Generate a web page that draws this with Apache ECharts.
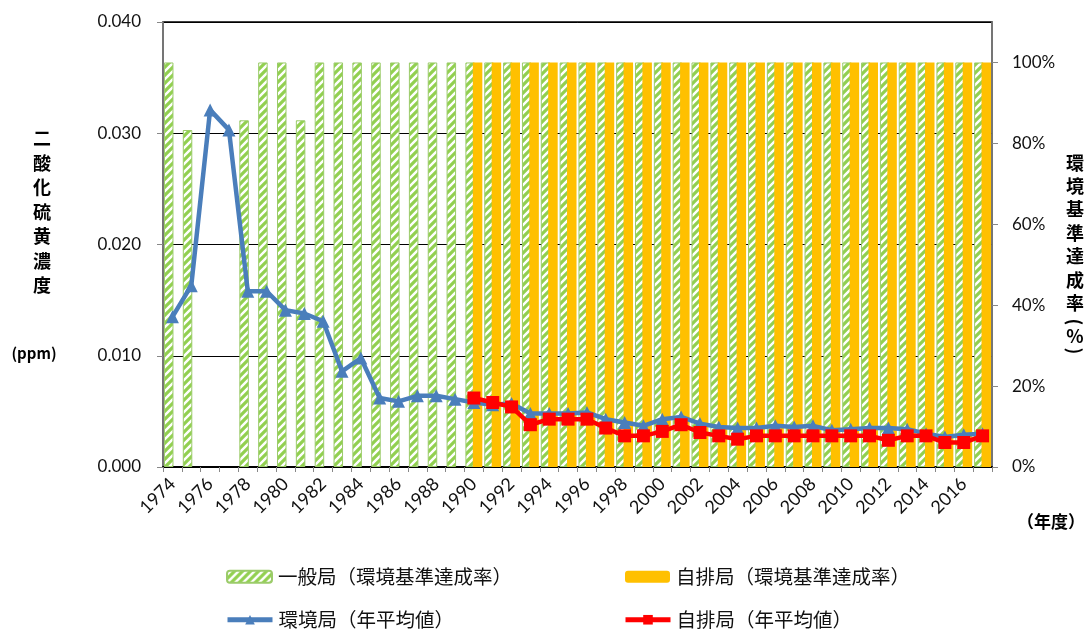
<!DOCTYPE html>
<html>
<head>
<meta charset="utf-8">
<script src="https://cdn.jsdelivr.net/npm/echarts@6/dist/echarts.min.js"></script>
<style>
html,body{margin:0;padding:0;background:#fff;}
#c{width:1088px;height:631px;}
</style>
</head>
<body>
<div id="c"></div>
<script>
const years = ['1974','1975','1976','1977','1978','1979','1980','1981','1982','1983','1984','1985','1986','1987','1988','1989','1990','1991','1992','1993','1994','1995','1996','1997','1998','1999','2000','2001','2002','2003','2004','2005','2006','2007','2008','2009','2010','2011','2012','2013','2014','2015','2016','2017'];

// 一般局 環境基準達成率 (%)
const generalRate = [100, 83.3, null, null, 85.7, 100, 100, 85.7,
  100,100,100,100,100,100,100,100,100,100,100,100,100,100,100,100,100,100,
  100,100,100,100,100,100,100,100,100,100,100,100,100,100,100,100,100,100];

// 自排局 環境基準達成率 (%)
const roadsideRate = [null,null,null,null,null,null,null,null,null,null,null,null,null,null,null,null,
  100,100,100,100,100,100,100,100,100,100,100,100,100,100,100,100,100,100,100,100,100,100,100,100,100,100,100,100];

// 環境局 年平均値 (ppm)
const generalAvg = [0.0135,0.0163,0.0321,0.0303,0.0158,0.0158,0.0141,0.0138,0.0131,0.0086,0.0098,0.0062,0.0059,0.0064,0.0064,0.0061,
  0.0058,0.0056,0.0057,0.0048,0.0048,0.0048,0.0049,0.0043,0.0040,0.0037,0.0043,0.0045,0.0039,0.0036,0.0035,0.0035,0.0037,0.0036,0.0037,0.0033,0.0034,0.0035,0.0035,0.0034,0.0030,0.0027,0.0029,0.0030];

// 自排局 年平均値 (ppm)
const roadsideAvg = [null,null,null,null,null,null,null,null,null,null,null,null,null,null,null,null,
  0.0062,0.0058,0.0054,0.0038,0.0043,0.0043,0.0043,0.0035,0.0028,0.0028,0.0032,0.0038,0.0031,0.0028,0.0025,0.0028,0.0028,0.0028,0.0028,0.0028,0.0028,0.0028,0.0024,0.0028,0.0028,0.0022,0.0022,0.0028];

const leftTicks = [0, 0.01, 0.02, 0.03, 0.04];
const rightTicks = [0, 20, 40, 60, 80, 100];

function hatch(){
  const cv = document.createElement('canvas');
  cv.width = 8; cv.height = 8;
  const g = cv.getContext('2d');
  g.fillStyle = '#ffffff';
  g.fillRect(0,0,8,8);
  g.strokeStyle = '#92D050';
  g.lineWidth = 3.2;
  g.beginPath();
  g.moveTo(-2,10); g.lineTo(10,-2);
  g.moveTo(-6,6); g.lineTo(6,-6);
  g.moveTo(2,14); g.lineTo(14,2);
  g.stroke();
  return cv;
}

const numFont = 'Lato, "Noto Sans", sans-serif';
const jpFont = '"Noto Sans CJK JP", sans-serif';

const chart = echarts.init(document.getElementById('c'), null, {renderer:'canvas'});
const names = ['一般局(環境基準達成率)','自排局(環境基準達成率)','環境局(年平均値)','自排局(年平均値)'];

const legendBase = {
  orient:'horizontal', padding:0, itemGap:0,
  itemWidth:45, itemHeight:12,
  lineStyle:{width:5},
  textStyle:{fontSize:19.5, fontFamily:jpFont, color:'#111', padding:[0,0,0,1]},
  formatter:function(n){ return n.replace('(', '（').replace(')', '）'); },
  selectedMode:false
};

const R = -Math.PI/2;
const titleStyle = {fontFamily:'"Noto Sans CJK JP"', fontWeight:'bold', fill:'#000', align:'center'};

chart.setOption({
  animation:false,
  backgroundColor:'#fff',
  grid:{left:163, right:96, top:22, bottom:164, show:true, borderColor:'#000', borderWidth:1.5, backgroundColor:'transparent'},
  legend:[
    Object.assign({}, legendBase, {left:226, top:567, data:[names[0]]}),
    Object.assign({}, legendBase, {left:625, top:567, data:[names[1]]}),
    Object.assign({}, legendBase, {left:225, top:610, data:[names[2]]}),
    Object.assign({}, legendBase, {left:623, top:610, data:[names[3]]})
  ],
  xAxis:{
    type:'category', data:years,
    boundaryGap:true,
    axisLine:{show:true, lineStyle:{color:'#000', width:2}},
    axisTick:{show:true, interval:0, alignWithLabel:false, length:5, lineStyle:{color:'#888'}},
    axisLabel:{interval:1, rotate:45, margin:14, fontSize:18, fontFamily:numFont, color:'#111'},
    splitLine:{show:false}
  },
  yAxis:[
    {
      type:'value', min:0, max:0.04, interval:0.01, position:'left',
      axisLine:{show:true, lineStyle:{color:'#888', width:1.5}},
      axisTick:{show:true, length:6, lineStyle:{color:'#888'}},
      axisLabel:{margin:22, fontSize:17, fontFamily:numFont, color:'#111',
        formatter:function(v){ return v.toFixed(3); }},
      splitLine:{show:true, lineStyle:{color:'#000', width:1}}
    },
    {
      type:'value', min:0, max:110, interval:20, position:'right',
      axisLine:{show:true, lineStyle:{color:'#888', width:1.5}},
      axisTick:{show:true, length:6, lineStyle:{color:'#888'}},
      axisLabel:{margin:20, fontSize:17, fontFamily:numFont, color:'#111', showMaxLabel:false,
        formatter:function(v){ return rightTicks.indexOf(v) >= 0 ? v + '%' : ''; }},
      splitLine:{show:false}
    }
  ],
  series:[
    {
      name:names[0], type:'bar', yAxisIndex:1, data:generalRate,
      barWidth:9.5, barGap:'-22%',
      itemStyle:{color:{image:hatch(), repeat:'repeat'}, borderColor:'#9BCB6A', borderWidth:1},
      z:2
    },
    {
      name:names[1], type:'bar', yAxisIndex:1, data:roadsideRate,
      barWidth:9.5, barGap:'-22%',
      itemStyle:{color:'#FFC000'},
      z:2
    },
    {
      name:names[2], type:'line', yAxisIndex:0, data:generalAvg,
      symbol:'triangle', symbolSize:13, showAllSymbol:true,
      lineStyle:{color:'#4A7EBB', width:4.5},
      itemStyle:{color:'#4A7EBB'},
      z:3
    },
    {
      name:names[3], type:'line', yAxisIndex:0, data:roadsideAvg,
      symbol:'rect', symbolSize:13, showAllSymbol:true,
      lineStyle:{color:'#FF0000', width:4.5},
      itemStyle:{color:'#FF0000'},
      z:4
    }
  ],
  graphic:[
    {type:'text', x:42, y:126, style:Object.assign({text:'二\n酸\n化\n硫\n黄\n濃\n度', fontSize:18, verticalAlign:'top', lineHeight:24.5}, titleStyle)},
    {type:'text', x:34, y:353, style:Object.assign({text:'(ppm)', fontSize:15, verticalAlign:'middle'}, titleStyle)},
    {type:'text', x:1075, y:151, style:Object.assign({text:'環\n境\n基\n準\n達\n成\n率', fontSize:18, verticalAlign:'top', lineHeight:23.4}, titleStyle)},
    {type:'text', x:1075, y:322, rotation:R, style:Object.assign({text:'(', fontSize:18, verticalAlign:'middle'}, titleStyle)},
    {type:'text', x:1075, y:336, style:Object.assign({text:'%', fontSize:18, verticalAlign:'middle'}, titleStyle)},
    {type:'text', x:1075, y:351, rotation:R, style:Object.assign({text:')', fontSize:18, verticalAlign:'middle'}, titleStyle)},
    {type:'text', x:1051, y:522, style:Object.assign({text:'（年度）', fontSize:17, verticalAlign:'middle'}, titleStyle)}
  ]
});
</script>
</body>
</html>
